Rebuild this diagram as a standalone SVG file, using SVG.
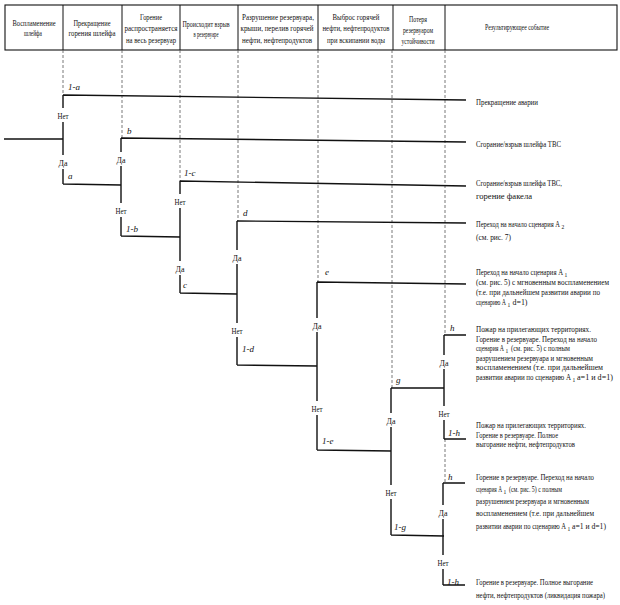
<svg xmlns="http://www.w3.org/2000/svg" width="620" height="605" viewBox="0 0 620 605">
<style>
.t{font-family:"Liberation Serif","Times New Roman",serif;font-size:8px;fill:#111}
.sm{font-size:7.5px}
.hd{font-size:8.6px}
.lb{font-size:9px}
.sub{font-size:5.5px}
.c{text-anchor:middle}
.i{font-style:italic}
.ln{stroke:#111;stroke-width:1.4;fill:none}
.ds{stroke:#555;stroke-width:0.8;stroke-dasharray:3 2;fill:none}
.hb{stroke:#111;stroke-width:1.1;fill:#fff}
.bg{fill:#fff}
</style>
<rect width="620" height="605" fill="#fff"/>
<g id="header">
<rect class="hb" x="5" y="5" width="612" height="45"/>
<path class="ln" style="stroke-width:1" d="M63 5V50M122 5V50M180 5V50M238 5V50M318 5V50M393 5V50M445 5V50"/>
<text class="t hd c" x="34" y="25.5" textLength="43" lengthAdjust="spacingAndGlyphs">Воспламенение</text>
<text class="t hd c" x="33" y="35.5" textLength="18" lengthAdjust="spacingAndGlyphs">шлейфа</text>
<text class="t hd c" x="92" y="25.5" textLength="37" lengthAdjust="spacingAndGlyphs">Прекращение</text>
<text class="t hd c" x="92" y="35.5" textLength="47" lengthAdjust="spacingAndGlyphs">горения шлейфа</text>
<text class="t hd c" x="151" y="19.5" textLength="22" lengthAdjust="spacingAndGlyphs">Горение</text>
<text class="t hd c" x="151" y="31" textLength="53" lengthAdjust="spacingAndGlyphs">распространяется</text>
<text class="t hd c" x="151" y="42.5" textLength="50" lengthAdjust="spacingAndGlyphs">на весь резервуар</text>
<text class="t hd c" x="206" y="27" textLength="47" lengthAdjust="spacingAndGlyphs">Происходит взрыв</text>
<text class="t hd c" x="206" y="37" textLength="25" lengthAdjust="spacingAndGlyphs">в резервуаре</text>
<text class="t hd c" x="278" y="19.5" textLength="72" lengthAdjust="spacingAndGlyphs">Разрушение резервуара,</text>
<text class="t hd c" x="277" y="31" textLength="73" lengthAdjust="spacingAndGlyphs">крыши, перелив горячей</text>
<text class="t hd c" x="277" y="42.5" textLength="70" lengthAdjust="spacingAndGlyphs">нефти, нефтепродуктов</text>
<text class="t hd c" x="356" y="19.5" textLength="47" lengthAdjust="spacingAndGlyphs">Выброс горячей</text>
<text class="t hd c" x="356" y="31" textLength="67" lengthAdjust="spacingAndGlyphs">нефти, нефтепродуктов</text>
<text class="t hd c" x="356" y="42.5" textLength="58" lengthAdjust="spacingAndGlyphs">при вскипании воды</text>
<text class="t hd c" x="418" y="21.5" textLength="18" lengthAdjust="spacingAndGlyphs">Потеря</text>
<text class="t hd c" x="418" y="32.5" textLength="30" lengthAdjust="spacingAndGlyphs">резервуаром</text>
<text class="t hd c" x="418" y="43.5" textLength="33" lengthAdjust="spacingAndGlyphs">устойчивости</text>
<text class="t hd c" x="517" y="29.5" textLength="64" lengthAdjust="spacingAndGlyphs">Результирующее событие</text>
</g>
<g id="guides">
<path class="ds" d="M63 50V95M122 50V138M180 50V181M238 50V221M318 50V282M392 50V388M445 50V335M445 439V483"/>
</g>
<g id="connectors">
<path class="ln" d="M4 139H63"/>
<path class="ln" d="M63 95V184M63 95L466 100M63 184L121 185"/>
<path class="ln" d="M121 138V236M121 138L466 142M121 236L180 237"/>
<path class="ln" d="M180 181V293M180 181L466 186M180 293L237 294"/>
<path class="ln" d="M237 221V365M237 221L466 223M237 365L317 366"/>
<path class="ln" d="M317 282V450M317 282L466 284M317 450L391 451"/>
<path class="ln" d="M391 388V535M391 388H444M391 535L444 536"/>
<path class="ln" d="M444 335V439M444 335H466M444 439H466"/>
<path class="ln" d="M443 483V585M443 483H465M443 585H465"/>
</g>
<g id="node1">
<rect class="bg" x="55" y="108" width="16" height="14"/>
<text class="t lb c" x="63" y="118.5" textLength="11" lengthAdjust="spacingAndGlyphs">Нет</text>
<rect class="bg" x="56" y="155" width="14" height="14"/>
<text class="t lb c" x="63" y="165.5" textLength="9" lengthAdjust="spacingAndGlyphs">Да</text>
<text class="t lb i" x="68" y="90">1-a</text>
<text class="t lb i" x="68" y="179">a</text>
</g>
<g id="node2">
<rect class="bg" x="114" y="152" width="14" height="14"/>
<text class="t lb c" x="121" y="162.5" textLength="9" lengthAdjust="spacingAndGlyphs">Да</text>
<rect class="bg" x="113" y="203" width="16" height="14"/>
<text class="t lb c" x="121" y="213.5" textLength="11" lengthAdjust="spacingAndGlyphs">Нет</text>
<text class="t lb i" x="127" y="134">b</text>
<text class="t lb i" x="126" y="232">1-b</text>
</g>
<g id="node3">
<rect class="bg" x="172" y="194" width="16" height="14"/>
<text class="t lb c" x="180" y="204.5" textLength="11" lengthAdjust="spacingAndGlyphs">Нет</text>
<rect class="bg" x="173" y="261" width="14" height="14"/>
<text class="t lb c" x="180" y="271.5" textLength="9" lengthAdjust="spacingAndGlyphs">Да</text>
<text class="t lb i" x="184" y="176">1-c</text>
<text class="t lb i" x="183" y="288">c</text>
</g>
<g id="node4">
<rect class="bg" x="230" y="250" width="14" height="14"/>
<text class="t lb c" x="237" y="260.5" textLength="9" lengthAdjust="spacingAndGlyphs">Да</text>
<rect class="bg" x="229" y="323" width="16" height="14"/>
<text class="t lb c" x="237" y="333.5" textLength="11" lengthAdjust="spacingAndGlyphs">Нет</text>
<text class="t lb i" x="243" y="216">d</text>
<text class="t lb i" x="242" y="352">1-d</text>
</g>
<g id="node5">
<rect class="bg" x="310" y="318" width="14" height="14"/>
<text class="t lb c" x="317" y="328.5" textLength="9" lengthAdjust="spacingAndGlyphs">Да</text>
<rect class="bg" x="309" y="401" width="16" height="14"/>
<text class="t lb c" x="317" y="411.5" textLength="11" lengthAdjust="spacingAndGlyphs">Нет</text>
<text class="t lb i" x="325" y="275">e</text>
<text class="t lb i" x="322" y="444">1-e</text>
</g>
<g id="node6">
<rect class="bg" x="384" y="413" width="14" height="14"/>
<text class="t lb c" x="391" y="423.5" textLength="9" lengthAdjust="spacingAndGlyphs">Да</text>
<rect class="bg" x="383" y="485" width="16" height="14"/>
<text class="t lb c" x="391" y="495.5" textLength="11" lengthAdjust="spacingAndGlyphs">Нет</text>
<text class="t lb i" x="396" y="383">g</text>
<text class="t lb i" x="394" y="530">1-g</text>
</g>
<g id="node7">
<rect class="bg" x="437" y="355" width="14" height="14"/>
<text class="t lb c" x="444" y="365.5" textLength="9" lengthAdjust="spacingAndGlyphs">Да</text>
<rect class="bg" x="436" y="406" width="16" height="14"/>
<text class="t lb c" x="444" y="416.5" textLength="11" lengthAdjust="spacingAndGlyphs">Нет</text>
<text class="t lb i" x="450" y="331">h</text>
<text class="t lb i" x="448" y="436">1-h</text>
</g>
<g id="node8">
<rect class="bg" x="436" y="505" width="14" height="14"/>
<text class="t lb c" x="443" y="515.5" textLength="9" lengthAdjust="spacingAndGlyphs">Да</text>
<rect class="bg" x="435" y="555" width="16" height="14"/>
<text class="t lb c" x="443" y="565.5" textLength="11" lengthAdjust="spacingAndGlyphs">Нет</text>
<text class="t lb i" x="448" y="480">h</text>
<text class="t lb i" x="447" y="585">1-h</text>
</g>
<g id="outcome1">
<text class="t" x="476" y="105" textLength="62" lengthAdjust="spacingAndGlyphs">Прекращение аварии</text>
</g>
<g id="outcome2">
<text class="t" x="476" y="147" textLength="85" lengthAdjust="spacingAndGlyphs">Сгорание/взрыв шлейфа ТВС</text>
</g>
<g id="outcome3">
<text class="t" x="476" y="186" textLength="86" lengthAdjust="spacingAndGlyphs">Сгорание/взрыв шлейфа ТВС,</text>
<text class="t" x="476" y="199" textLength="56" lengthAdjust="spacingAndGlyphs">горение факела</text>
</g>
<g id="outcome4">
<text class="t" x="476" y="227" textLength="84" lengthAdjust="spacingAndGlyphs">Переход на начало сценария A</text>
<text class="t sub" x="561.5" y="228.5">2</text>
<text class="t" x="476" y="240" textLength="35" lengthAdjust="spacingAndGlyphs">(см. рис. 7)</text>
</g>
<g id="outcome5">
<text class="t" x="476" y="275" textLength="87" lengthAdjust="spacingAndGlyphs">Переход на начало сценария A</text>
<text class="t sub" x="564.5" y="276.5">1</text>
<text class="t sm" x="476" y="285" textLength="133" lengthAdjust="spacingAndGlyphs">(см. рис. 5) с мгновенным воспламенением</text>
<text class="t sm" x="476" y="295" textLength="124" lengthAdjust="spacingAndGlyphs">(т.е. при дальнейшем развитии аварии по</text>
<text class="t" x="476" y="305" textLength="30" lengthAdjust="spacingAndGlyphs">сценарию A</text>
<text class="t sub" x="507.5" y="306.5">1</text>
<text class="t" x="512.5" y="305" textLength="15" lengthAdjust="spacingAndGlyphs">d=1)</text>
</g>
<g id="outcome6">
<text class="t" x="476" y="332" textLength="115" lengthAdjust="spacingAndGlyphs">Пожар на прилегающих территориях.</text>
<text class="t" x="476" y="341.6" textLength="121" lengthAdjust="spacingAndGlyphs">Горение в резервуаре. Переход на начало</text>
<text class="t" x="476" y="351.2" textLength="28" lengthAdjust="spacingAndGlyphs">сценария A</text>
<text class="t sub" x="505.5" y="352.7">1</text>
<text class="t" x="511" y="351.2" textLength="59" lengthAdjust="spacingAndGlyphs">(см. рис. 5) с полным</text>
<text class="t" x="476" y="360.8" textLength="117" lengthAdjust="spacingAndGlyphs">разрушением резервуара и мгновенным</text>
<text class="t" x="476" y="370.4" textLength="127" lengthAdjust="spacingAndGlyphs">воспламенением (т.е. при дальнейшем</text>
<text class="t" x="476" y="380" textLength="95" lengthAdjust="spacingAndGlyphs">развитии аварии по сценарию A</text>
<text class="t sub" x="572.5" y="381.5">1</text>
<text class="t" x="577" y="380" textLength="36" lengthAdjust="spacingAndGlyphs">a=1 и d=1)</text>
</g>
<g id="outcome7">
<text class="t" x="476" y="428" textLength="110" lengthAdjust="spacingAndGlyphs">Пожар на прилегающих территориях.</text>
<text class="t" x="476" y="437.5" textLength="82" lengthAdjust="spacingAndGlyphs">Горение в резервуаре. Полное</text>
<text class="t" x="476" y="447" textLength="99" lengthAdjust="spacingAndGlyphs">выгорание нефти, нефтепродуктов</text>
</g>
<g id="outcome8">
<text class="t" x="476" y="480" textLength="118" lengthAdjust="spacingAndGlyphs">Горение в резервуаре. Переход на начало</text>
<text class="t" x="476" y="492" textLength="26" lengthAdjust="spacingAndGlyphs">сценария A</text>
<text class="t sub" x="503.5" y="493.5">1</text>
<text class="t" x="509" y="492" textLength="53" lengthAdjust="spacingAndGlyphs">(см. рис. 5) с полным</text>
<text class="t" x="476" y="504" textLength="113" lengthAdjust="spacingAndGlyphs">разрушением резервуара и мгновенным</text>
<text class="t" x="476" y="516" textLength="118" lengthAdjust="spacingAndGlyphs">воспламенением (т.е. при дальнейшем</text>
<text class="t" x="476" y="529" textLength="90" lengthAdjust="spacingAndGlyphs">развитии аварии по сценарию A</text>
<text class="t sub" x="567.5" y="530.5">1</text>
<text class="t" x="572" y="529" textLength="34" lengthAdjust="spacingAndGlyphs">a=1 и d=1)</text>
</g>
<g id="outcome9">
<text class="t" x="476" y="585" textLength="117" lengthAdjust="spacingAndGlyphs">Горение в резервуаре. Полное выгорание</text>
<text class="t sm" x="476" y="598" textLength="129" lengthAdjust="spacingAndGlyphs">нефти, нефтепродуктов (ликвидация пожара)</text>
</g>
</svg>
